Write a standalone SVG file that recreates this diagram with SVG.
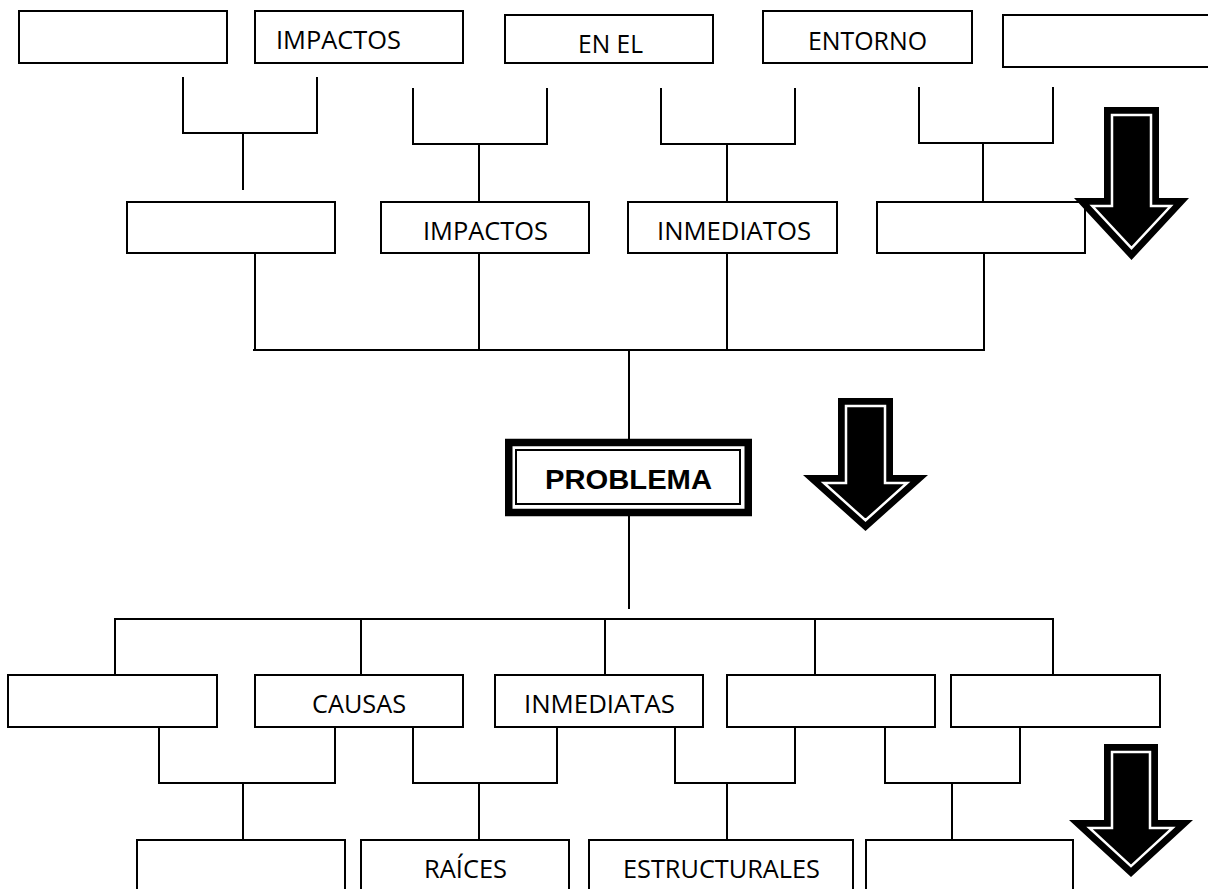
<svg xmlns="http://www.w3.org/2000/svg" width="1208" height="889" viewBox="0 0 1208 889">
<style>
.box{fill:#fff;stroke:#000;stroke-width:2}
.lbl{font-family:"Open Sans","Liberation Sans",sans-serif;font-size:25px;fill:#000}
.con{fill:none;stroke:#000;stroke-width:2}
.arr{fill:#000}
.arrw{fill:none;stroke:#fff;stroke-width:2.5;stroke-linejoin:miter}
</style>
<rect width="1208" height="889" fill="#fff"/>
<g id="connectors" class="con">
<path d="M183 77V133H317V77M243 133V190"/>
<path d="M413 88V144H547V88M479 144V202"/>
<path d="M661 88V144H795V88M727 144V202"/>
<path d="M919 87V143H1053V87M983 143V202"/>
<path d="M255 253V350M479 253V350M727 253V350M984 253V350M253 350H985M629 350V439"/>
<path d="M629 516V609"/>
<path d="M115 675V619H1053V675M361 619V675M605 619V675M815 619V675"/>
<path d="M159 727V783H335V727M243 783V840"/>
<path d="M413 727V783H557V727M479 783V840"/>
<path d="M675 727V783H795V727M727 783V840"/>
<path d="M885 727V783H1020V727M952 783V840"/>
</g>
<g id="r1b1"><rect class="box" x="19" y="11" width="208" height="52"/></g>
<g id="r1b2"><rect class="box" x="255" y="11" width="208" height="52"/><text class="lbl" x="276" y="49" textLength="125" lengthAdjust="spacingAndGlyphs">IMPACTOS</text></g>
<g id="r1b3"><rect class="box" x="505" y="15" width="208" height="48"/><text class="lbl" x="578" y="53" textLength="65" lengthAdjust="spacingAndGlyphs">EN EL</text></g>
<g id="r1b4"><rect class="box" x="763" y="11" width="209" height="52"/><text class="lbl" x="808" y="50" textLength="119" lengthAdjust="spacingAndGlyphs">ENTORNO</text></g>
<g id="r1b5"><rect class="box" x="1003" y="15" width="220" height="52"/></g>
<g id="r2b1"><rect class="box" x="127" y="202" width="208" height="51"/></g>
<g id="r2b2"><rect class="box" x="381" y="202" width="208" height="51"/><text class="lbl" x="423" y="240" textLength="125" lengthAdjust="spacingAndGlyphs">IMPACTOS</text></g>
<g id="r2b3"><rect class="box" x="628" y="202" width="209" height="51"/><text class="lbl" x="657" y="240" textLength="154" lengthAdjust="spacingAndGlyphs">INMEDIATOS</text></g>
<g id="r2b4"><rect class="box" x="877" y="202" width="208" height="51"/></g>
<g id="problema">
<rect x="508.75" y="442.5" width="239.5" height="70" fill="#fff" stroke="#000" stroke-width="7.5"/>
<rect x="516" y="450" width="224" height="54" fill="none" stroke="#000" stroke-width="2"/>
<text x="545" y="489" font-family="'Liberation Sans',Arial,sans-serif" font-weight="bold" font-size="28" textLength="167" lengthAdjust="spacingAndGlyphs">PROBLEMA</text>
</g>
<g id="r4b1"><rect class="box" x="8" y="675" width="209" height="52"/></g>
<g id="r4b2"><rect class="box" x="255" y="675" width="208" height="52"/><text class="lbl" x="312" y="713" textLength="94" lengthAdjust="spacingAndGlyphs">CAUSAS</text></g>
<g id="r4b3"><rect class="box" x="495" y="675" width="208" height="52"/><text class="lbl" x="524" y="713" textLength="151" lengthAdjust="spacingAndGlyphs">INMEDIATAS</text></g>
<g id="r4b4"><rect class="box" x="727" y="675" width="208" height="52"/></g>
<g id="r4b5"><rect class="box" x="951" y="675" width="209" height="52"/></g>
<g id="r5b1"><rect class="box" x="137" y="840" width="208" height="70"/></g>
<g id="r5b2"><rect class="box" x="361" y="840" width="208" height="70"/><text class="lbl" x="424" y="878" textLength="83" lengthAdjust="spacingAndGlyphs">RAÍCES</text></g>
<g id="r5b3"><rect class="box" x="589" y="840" width="264" height="70"/><text class="lbl" x="623" y="878" textLength="197" lengthAdjust="spacingAndGlyphs">ESTRUCTURALES</text></g>
<g id="r5b4"><rect class="box" x="866" y="840" width="207" height="70"/></g>
<g id="arrow1">
<polygon class="arr" points="1104,107 1159,107 1159,198 1189,198 1131.5,260 1074,198 1104,198"/>
<polygon class="arrw" points="1112,115 1151,115 1151,206 1170.7,206 1131.5,248.2 1092.3,206 1112,206"/>
</g>
<g id="arrow2">
<polygon class="arr" points="838,398 893,398 893,475 928,475 865.5,531 803,475 838,475"/>
<polygon class="arrw" points="846,406 885,406 885,483 907.1,483 865.5,520.3 823.9,483 846,483"/>
</g>
<g id="arrow3">
<polygon class="arr" points="1104,744 1158,744 1158,820 1193,820 1131,877 1069,820 1104,820"/>
<polygon class="arrw" points="1112,752 1150,752 1150,828 1172.5,828 1131,866.1 1089.5,828 1112,828"/>
</g>
</svg>
